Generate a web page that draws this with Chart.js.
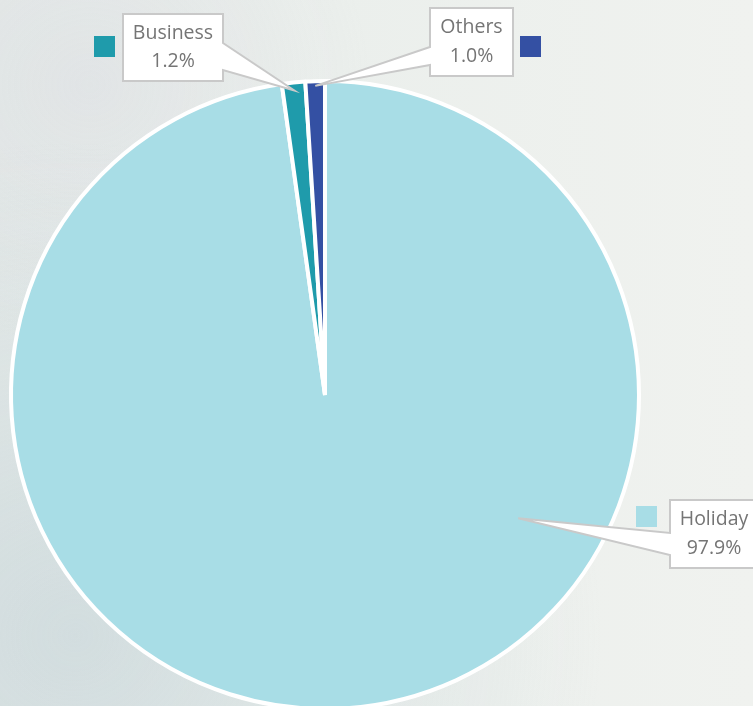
<!DOCTYPE html>
<html>
<head>
<meta charset="utf-8">
<script src="https://cdn.jsdelivr.net/npm/chart.js@4/dist/chart.umd.min.js"></script>
<style>
  html, body { margin:0; padding:0; width:753px; height:706px; overflow:hidden; }
  body {
    background:
      radial-gradient(ellipse at 10% 90%, rgba(180,200,208,0.40) 0%, rgba(180,200,208,0) 55%),
      radial-gradient(ellipse at 12% 12%, rgba(200,198,215,0.18) 0%, rgba(200,198,215,0) 30%),
      linear-gradient(90deg, #e5eae8 0%, #ebefec 45%, #f0f2ef 100%);
  }
  #wrap { position:absolute; left:0; top:0; }
</style>
</head>
<body>
<div id="wrap"><canvas id="pieChart" width="753" height="720"></canvas></div>
<script>
// =====================================================
//  Purpose of trip — pie with callout labels
// =====================================================

const categories = ['Holiday', 'Business', 'Others'];
const shares     = [97.9, 1.2, 1.0];
const pctLabels  = ['97.9%', '1.2%', '1.0%'];
const colors     = ['#a8dde6', '#1f9bab', '#3450a3'];

// ---- callout styling (pixel layout only) ----
const CALLOUTS = [
  { box:{ x:670, y:500, w:88, h:68 }, side:'left',  wedge:[33, 55], swatch:{ x:636, y:506 }, tipFrac:0.348, tipRad:0.73 },
  { box:{ x:123, y:14,  w:100, h:67 }, side:'right', wedge:[29, 56], swatch:{ x:94,  y:36  }, tipFrac:0.5,   tipRad:0.975 },
  { box:{ x:430, y:8,   w:83, h:68 }, side:'left',  wedge:[39, 57], swatch:{ x:520, y:36  }, tipFrac:0.5,   tipRad:0.985 },
];

const calloutPlugin = {
  id: 'callouts',
  afterDatasetsDraw(chart) {
    const ctx  = chart.ctx;
    const meta = chart.getDatasetMeta(0);
    meta.data.forEach((arc, i) => {
      const c = CALLOUTS[i];
      const p = arc.getProps(['x','y','startAngle','endAngle','outerRadius'], true);
      const a = p.startAngle + (p.endAngle - p.startAngle) * c.tipFrac;
      const tx = p.x + Math.cos(a) * p.outerRadius * c.tipRad;
      const ty = p.y + Math.sin(a) * p.outerRadius * c.tipRad;
      const { x, y, w, h } = c.box;

      ctx.save();
      ctx.beginPath();
      ctx.moveTo(x, y);
      ctx.lineTo(x + w, y);
      if (c.side === 'right') {
        ctx.lineTo(x + w, y + c.wedge[0]);
        ctx.lineTo(tx, ty);
        ctx.lineTo(x + w, y + c.wedge[1]);
      }
      ctx.lineTo(x + w, y + h);
      ctx.lineTo(x, y + h);
      if (c.side === 'left') {
        ctx.lineTo(x, y + c.wedge[1]);
        ctx.lineTo(tx, ty);
        ctx.lineTo(x, y + c.wedge[0]);
      }
      ctx.closePath();
      ctx.fillStyle = '#ffffff';
      ctx.fill();
      ctx.lineWidth = 2;
      ctx.lineJoin = 'miter';
      ctx.strokeStyle = '#c9c9c9';
      ctx.stroke();

      ctx.fillStyle = '#757575';
      ctx.font = '19.5px "Open Sans", sans-serif';
      ctx.textAlign = 'center';
      ctx.textBaseline = 'middle';
      ctx.fillText(categories[i], x + w / 2, y + h * 0.29);
      ctx.fillText(pctLabels[i],  x + w / 2, y + h * 0.71);

      ctx.fillStyle = colors[i];
      ctx.fillRect(c.swatch.x, c.swatch.y, 21, 21);
      ctx.restore();
    });
  }
};

new Chart(document.getElementById('pieChart').getContext('2d'), {
  type: 'pie',
  data: {
    labels: categories,
    datasets: [{
      data: shares,
      backgroundColor: colors,
      borderColor: '#ffffff',
      borderWidth: 4,
    }],
  },
  options: {
    responsive: false,
    animation: false,
    layout: { padding: { left: 9, right: 112, top: 79, bottom: 9 } },
    plugins: {
      legend:  { display: false },
      tooltip: { enabled: false },
    },
  },
  plugins: [calloutPlugin],
});
</script>
</body>
</html>
